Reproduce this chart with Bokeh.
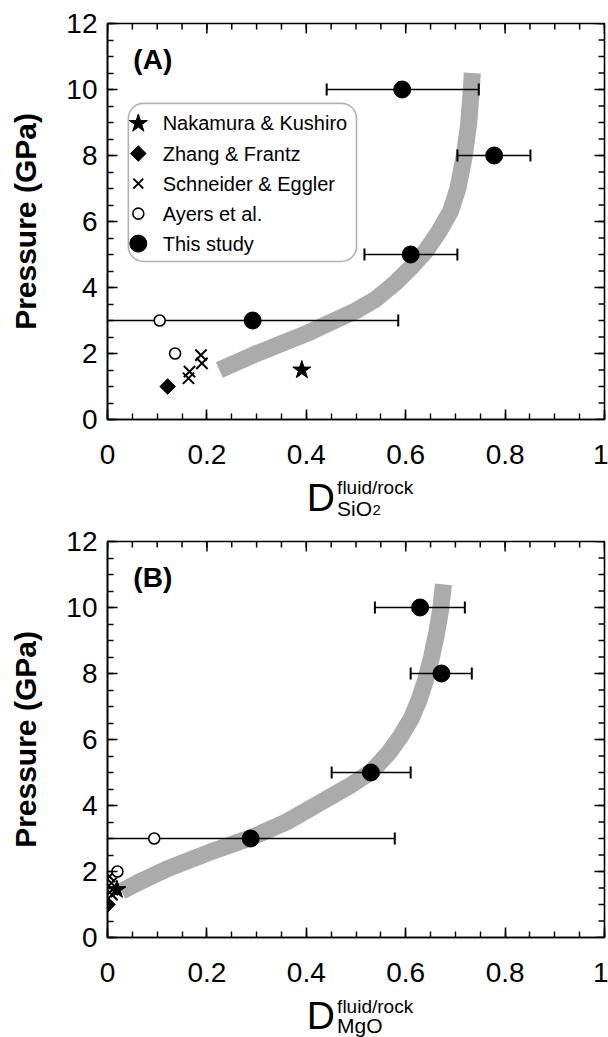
import numpy as np
from bokeh.plotting import figure
from bokeh.layouts import column
from bokeh.models import Range1d, LinearAxis, FixedTicker, Label, BoxAnnotation
from bokeh.embed import file_html
from bokeh.resources import INLINE

# ---------------- data ----------------
X_TICKS = [0, 0.2, 0.4, 0.6, 0.8, 1]
X_TICK_LABELS = ["0", "0.2", "0.4", "0.6", "0.8", "1"]
Y_TICKS = [0, 2, 4, 6, 8, 10, 12]
Y_TICK_LABELS = ["0", "2", "4", "6", "8", "10", "12"]
X_MINOR_STEP = 0.05
Y_MINOR_STEP = 0.5

# Panel A : SiO2
A_this_D = [0.292, 0.610, 0.778, 0.593]
A_this_P = [3, 5, 8, 10]
A_this_lo = [0.0, 0.517, 0.704, 0.441]
A_this_hi = [0.585, 0.704, 0.851, 0.747]
A_ayers_D = [0.105, 0.136]
A_ayers_P = [3, 2]
A_schn_D = [0.163, 0.165, 0.190, 0.188]
A_schn_P = [1.25, 1.45, 1.70, 1.95]
A_zhang_D = [0.121]
A_zhang_P = [1.0]
A_naka_D = [0.391]
A_naka_P = [1.5]
A_band_D = [0.225, 0.30, 0.40, 0.45, 0.50, 0.54, 0.58, 0.61, 0.64, 0.667, 0.69, 0.705, 0.718, 0.727, 0.732, 0.734]
A_band_P = [1.5, 2.0, 2.6, 2.95, 3.3, 3.65, 4.15, 4.6, 5.1, 5.7, 6.3, 7.0, 8.0, 9.0, 10.0, 10.5]

# Panel B : MgO
B_this_D = [0.288, 0.530, 0.672, 0.629]
B_this_P = [3, 5, 8, 10]
B_this_lo = [0.0, 0.451, 0.610, 0.538]
B_this_hi = [0.578, 0.610, 0.733, 0.719]
B_ayers_D = [0.094, 0.020]
B_ayers_P = [3, 2]
B_schn_D = [0.004, 0.008, 0.010, 0.009]
B_schn_P = [1.85, 1.65, 1.45, 1.30]
B_zhang_D = [0.0]
B_zhang_P = [1.0]
B_naka_D = [0.019]
B_naka_P = [1.45]
B_band_D = [0.028, 0.06, 0.12, 0.20, 0.288, 0.36, 0.43, 0.49, 0.533, 0.566, 0.59, 0.611, 0.627, 0.64, 0.652, 0.662, 0.67, 0.676]
B_band_P = [1.4, 1.65, 2.08, 2.55, 3.02, 3.5, 4.1, 4.62, 5.05, 5.6, 6.1, 6.63, 7.2, 7.8, 8.5, 9.2, 9.9, 10.7]

LEGEND_NAMES = ["Nakamura & Kushiro", "Zhang & Frantz", "Schneider & Eggler", "Ayers et al.", "This study"]

FONT = "Liberation Sans"
BAND = "#ababab"
W = 608
LEFT, RIGHT = 107, 4
FRAME_W = W - LEFT - RIGHT      # 497
FRAME_H = 396
MAJ_LEN, MIN_LEN = 10, 6        # tick lengths, px


def style_axis(ax, ticks, minor, labels):
    ax.ticker = FixedTicker(ticks=ticks, minor_ticks=minor)
    ax.axis_line_width = 1.6
    ax.axis_line_color = "black"
    ax.major_tick_in = MAJ_LEN
    ax.major_tick_out = 0
    ax.minor_tick_in = MIN_LEN
    ax.minor_tick_out = 0
    ax.major_tick_line_width = 1.6
    ax.minor_tick_line_width = 1.4
    ax.major_tick_line_color = "black"
    ax.minor_tick_line_color = "black"
    ax.major_label_overrides = dict(zip(ticks, labels))
    ax.major_label_text_font = FONT
    ax.major_label_text_font_size = "28px"
    ax.major_label_text_color = "black"


def make_panel(height, top_border, tag, band_D, band_P,
               this_D, this_P, lo, hi, ay_D, ay_P, sc_D, sc_P, zh_D, zh_P, nk_D, nk_P, legend=False):
    bottom_border = height - top_border - FRAME_H
    p = figure(width=W, height=height, x_range=Range1d(0, 1), y_range=Range1d(0, 12),
               x_axis_type=None, y_axis_type=None, output_backend="svg", toolbar_location=None,
               min_border_left=LEFT, min_border_right=RIGHT, min_border_top=top_border,
               min_border_bottom=bottom_border, background_fill_color="white",
               border_fill_color="white", outline_line_color="black", outline_line_width=1.6)
    xminor = [float(v) for v in np.round(np.arange(0, 1.0001, X_MINOR_STEP), 2)]
    yminor = [float(v) for v in np.round(np.arange(0, 12.001, Y_MINOR_STEP), 1)]

    bx = LinearAxis()
    style_axis(bx, X_TICKS, xminor, X_TICK_LABELS)
    bx.major_label_standoff = 25
    p.add_layout(bx, "below")
    ly = LinearAxis(axis_label="Pressure (GPa)")
    style_axis(ly, Y_TICKS, yminor, Y_TICK_LABELS)
    ly.major_label_standoff = 10
    ly.axis_label_text_font = FONT
    ly.axis_label_text_font_style = "bold"
    ly.axis_label_text_font_size = "30px"
    ly.axis_label_text_color = "black"
    ly.axis_label_standoff = 21
    p.add_layout(ly, "left")

    # inward ticks on the top and right frame edges
    dx_maj, dx_min = MAJ_LEN / FRAME_W, MIN_LEN / FRAME_W
    dy_maj, dy_min = MAJ_LEN / FRAME_H * 12, MIN_LEN / FRAME_H * 12
    tx = list(X_TICKS) + xminor
    tl = [dy_maj] * len(X_TICKS) + [dy_min] * len(xminor)
    p.segment(x0=tx, y0=[12] * len(tx), x1=tx, y1=[12 - l for l in tl], line_color="black", line_width=1.5)
    ty = list(Y_TICKS) + yminor
    tw = [dx_maj] * len(Y_TICKS) + [dx_min] * len(yminor)
    p.segment(x0=[1] * len(ty), y0=ty, x1=[1 - l for l in tw], y1=ty, line_color="black", line_width=1.5)

    # gray trend band
    p.line(band_D, band_P, line_width=17, line_color=BAND, line_cap="butt", line_join="round")

    # error bars
    p.segment(x0=lo, y0=this_P, x1=hi, y1=this_P, line_color="black", line_width=1.5)
    cap = 6 / FRAME_H * 12
    cx = list(hi) + [l for l in lo if l > 0]
    cy = list(this_P) + [pp for l, pp in zip(lo, this_P) if l > 0]
    p.segment(x0=cx, y0=[v - cap for v in cy], x1=cx, y1=[v + cap for v in cy],
              line_color="black", line_width=2)

    # markers
    p.scatter(zh_D, zh_P, marker="square", angle=np.pi / 4, size=11, fill_color="black", line_color="black")
    p.scatter(sc_D, sc_P, marker="x", size=16, line_color="black", line_width=2)
    p.scatter(ay_D, ay_P, marker="circle", size=11, fill_color="white", line_color="black", line_width=1.6)
    p.scatter(nk_D, nk_P, marker="star", size=19, fill_color="black", line_color="black")
    p.scatter(this_D, this_P, marker="circle", size=17, fill_color="black", line_color="black")

    # panel tag
    p.add_layout(Label(x=0.052, y=10.9, text=tag, text_font=FONT, text_font_style="bold",
                       text_font_size="28px", text_color="black", text_baseline="middle"))

    if legend:
        p.add_layout(BoxAnnotation(left=0.042, right=0.501, bottom=4.79, top=9.58, border_radius=15,
                                   fill_alpha=0, line_color="black", line_width=1.6, level="underlay"))
        lx = 0.062
        ys = [8.97, 8.06, 7.15, 6.24, 5.33]
        p.scatter([lx], [ys[0]], marker="star", size=19, fill_color="black", line_color="black")
        p.scatter([lx], [ys[1]], marker="square", angle=np.pi / 4, size=11, fill_color="black", line_color="black")
        p.scatter([lx], [ys[2]], marker="x", size=14, line_color="black", line_width=1.8)
        p.scatter([lx], [ys[3]], marker="circle", size=11, fill_color="white", line_color="black", line_width=1.6)
        p.scatter([lx], [ys[4]], marker="circle", size=17, fill_color="black", line_color="black")
        for name, yy in zip(LEGEND_NAMES, ys):
            p.add_layout(Label(x=0.111, y=yy, text=name, text_font=FONT, text_font_size="20px",
                               text_color="black", text_baseline="middle"))
    return p


def make_xlabel(height, d_mid, sup_mid, sub_mid, sub_text, sub_digit=None, digit_mid=None):
    # strip holding D^{fluid/rock}_{sub}; y = text middle, px above the strip's bottom
    q = figure(width=W, height=height, x_range=Range1d(0, 1), y_range=Range1d(0, height),
               x_axis_type=None, y_axis_type=None, output_backend="svg", toolbar_location=None,
               min_border_left=LEFT, min_border_right=RIGHT, min_border_top=0, min_border_bottom=0,
               outline_line_color=None, background_fill_color="white", border_fill_color="white")
    q.grid.visible = False
    q.add_layout(Label(x=0.401, y=d_mid, text="D", text_font=FONT, text_font_size="39px",
                       text_color="black", text_baseline="middle"))
    q.add_layout(Label(x=0.462, y=sup_mid, text="fluid/rock", text_font=FONT,
                       text_font_size="19px", text_color="black", text_baseline="middle"))
    q.add_layout(Label(x=0.462, y=sub_mid, text=sub_text, text_font=FONT,
                       text_font_size="21px", text_color="black", text_baseline="middle"))
    if sub_digit:
        q.add_layout(Label(x=0.533, y=digit_mid, text=sub_digit, text_font=FONT,
                           text_font_size="15px", text_color="black", text_baseline="middle"))
    return q


pA = make_panel(475, 23, "(A)", A_band_D, A_band_P, A_this_D, A_this_P, A_this_lo, A_this_hi,
                A_ayers_D, A_ayers_P, A_schn_D, A_schn_P, A_zhang_D, A_zhang_P, A_naka_D, A_naka_P,
                legend=True)
lA = make_xlabel(46, 24, 34, 13.4, "SiO", "2", 11.3)
pB = make_panel(472, 20, "(B)", B_band_D, B_band_P, B_this_D, B_this_P, B_this_lo, B_this_hi,
                B_ayers_D, B_ayers_P, B_schn_D, B_schn_P, B_zhang_D, B_zhang_P, B_naka_D, B_naka_P)
lB = make_xlabel(44, 22, 31, 12, "MgO")

layout = column(pA, lA, pB, lB, spacing=0)
open("out.html", "w").write(file_html(layout, INLINE))
